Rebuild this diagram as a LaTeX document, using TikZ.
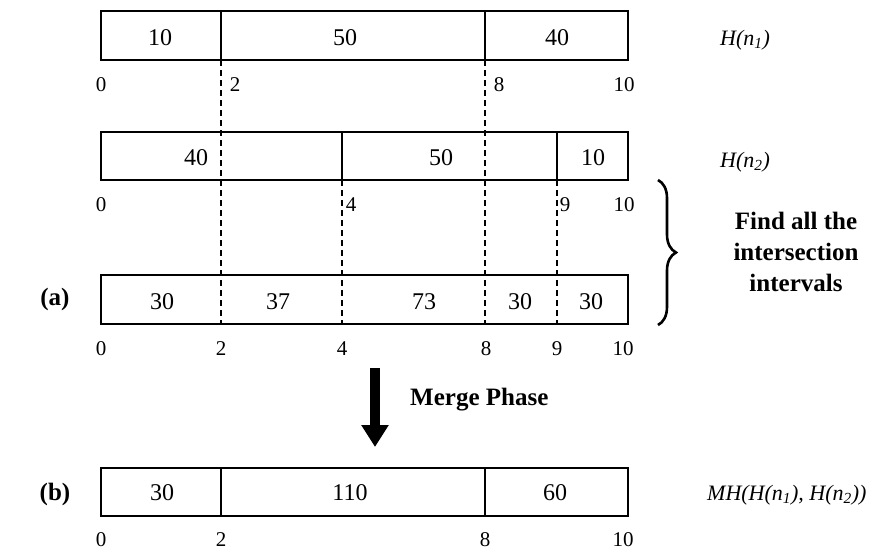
\documentclass[tikz,border=0pt]{standalone}
\usepackage{fontspec}
\setmainfont{Liberation Serif}
\usetikzlibrary{arrows.meta,decorations.pathreplacing}
\begin{document}
\begin{tikzpicture}[x=1pt,y=-1pt,
  bar/.style={draw,line width=1.5pt},
  cut/.style={line width=1.5pt},
  guide/.style={line width=1.5pt,dash pattern=on 6pt off 4pt},
  cellval/.style={font=\fontsize{24}{28}\selectfont,inner sep=0pt,anchor=base},
  axisnum/.style={font=\fontsize{21}{25}\selectfont,inner sep=0pt,anchor=base},
  histname/.style={font=\fontsize{22}{26}\selectfont\itshape,inner sep=0pt,anchor=base west},
  boldtxt/.style={font=\fontsize{25}{31}\selectfont\bfseries,inner sep=0pt,anchor=base}]
\useasboundingbox (0,0) rectangle (879,550);

% ---- H(n1) ----
\draw[bar] (101,11) rectangle (628,60);
\coordinate (a2t) at (221,11); \coordinate (a2b) at (221,60);
\coordinate (a8t) at (485,11); \coordinate (a8b) at (485,60);
\draw[cut] (a2t) -- (a2b);
\draw[cut] (a8t) -- (a8b);
\node[cellval] (h1v1) at (160,45) {10};
\node[cellval] (h1v2) at (345,45) {50};
\node[cellval] (h1v3) at (557,45) {40};
\node[axisnum] (h1t0) at (101,91) {0};
\node[axisnum] (h1t2) at (235,91) {2};
\node[axisnum] (h1t8) at (499,91) {8};
\node[axisnum] (h1t10) at (624,91) {10};
\node[histname] (h1n) at (720,45) {H(n\textsubscript{1})};

% ---- H(n2) ----
\draw[bar] (101,132) rectangle (628,180);
\coordinate (b4t) at (342,132); \coordinate (b4b) at (342,180);
\coordinate (b9t) at (557,132); \coordinate (b9b) at (557,180);
\draw[cut] (b4t) -- (b4b);
\draw[cut] (b9t) -- (b9b);
\node[cellval] (h2v1) at (196,165) {40};
\node[cellval] (h2v2) at (441,165) {50};
\node[cellval] (h2v3) at (593,165) {10};
\node[axisnum] (h2t0) at (101,211) {0};
\node[axisnum] (h2t4) at (351,211) {4};
\node[axisnum] (h2t9) at (565,211) {9};
\node[axisnum] (h2t10) at (624,211) {10};
\node[histname] (h2n) at (720,167) {H(n\textsubscript{2})};

% ---- intersection intervals ----
\draw[bar] (101,275) rectangle (628,324);
\coordinate (c2) at (221,324); \coordinate (c4) at (342,324);
\coordinate (c8) at (485,324); \coordinate (c9) at (557,324);
\draw[guide] (a2b) -- (c2);
\draw[guide] (a8b) -- (c8);
\draw[guide] (b4b) -- (c4);
\draw[guide] (b9b) -- (c9);
\node[cellval] (iv1) at (162,309) {30};
\node[cellval] (iv2) at (278,309) {37};
\node[cellval] (iv3) at (424,309) {73};
\node[cellval] (iv4) at (520,309) {30};
\node[cellval] (iv5) at (591,309) {30};
\node[axisnum] (it0) at (101,355) {0};
\node[axisnum] (it2) at (221,355) {2};
\node[axisnum] (it4) at (342,355) {4};
\node[axisnum] (it8) at (486,355) {8};
\node[axisnum] (it9) at (557,355) {9};
\node[axisnum] (it10) at (623,355) {10};
\node[boldtxt] (la) at (55,305) {(a)};

% ---- brace and its note ----
\coordinate (brtop) at (658,180);
\coordinate (brbot) at (658,325);
\draw[line width=2.6pt,decorate,decoration={brace,amplitude=18pt}] (brtop) -- (brbot);
\node[boldtxt,align=center,anchor=north] (note) at (796,212)
  {Find all the\\intersection\\intervals};

% ---- merge arrow ----
\coordinate (arrtop) at (375,368);
\coordinate (arrend) at (375,447);
\draw[line width=10pt,-{Triangle[width=26pt,length=22pt]}] (arrtop) -- (arrend);
\node[boldtxt,anchor=base west] (merge) at (410,405) {Merge Phase};

% ---- merged histogram ----
\draw[bar] (101,468) rectangle (628,516);
\coordinate (d2t) at (221,468); \coordinate (d2b) at (221,516);
\coordinate (d8t) at (485,468); \coordinate (d8b) at (485,516);
\draw[cut] (d2t) -- (d2b);
\draw[cut] (d8t) -- (d8b);
\node[cellval] (mv1) at (162,500) {30};
\node[cellval] (mv2) at (350,500) {110};
\node[cellval] (mv3) at (555,500) {60};
\node[axisnum] (mt0) at (101,546) {0};
\node[axisnum] (mt2) at (221,546) {2};
\node[axisnum] (mt8) at (485,546) {8};
\node[axisnum] (mt10) at (623,546) {10};
\node[boldtxt] (lb) at (55,500) {(b)};
\node[histname] (mhn) at (707,500) {MH(H(n\textsubscript{1}), H(n\textsubscript{2}))};
\end{tikzpicture}
\end{document}
